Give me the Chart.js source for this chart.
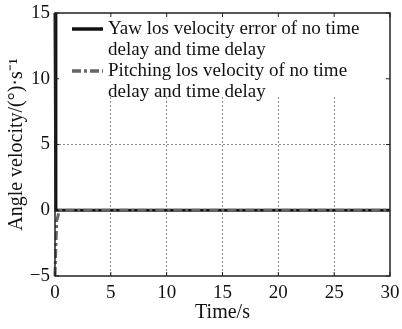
<!DOCTYPE html>
<html>
<head>
<meta charset="utf-8">
<script src="https://cdn.jsdelivr.net/npm/chart.js@4.4.0/dist/chart.umd.min.js"></script>
<style>
  html, body { margin: 0; padding: 0; background: #fff; }
  #wrap { width: 402px; height: 329px; position: relative; }
</style>
</head>
<body>
<div id="wrap"><canvas id="c" width="402" height="329"></canvas></div>
<script>
// --- data ---
const yawTime = [0, 0.08, 30];
const yawValue = [15, 0, 0];
const pitchTime = [0, 0.15, 0.4, 30];
const pitchValue = [-5, -0.8, 0, 0];

const xTicks = [0, 5, 10, 15, 20, 25, 30];
const yTicks = [-5, 0, 5, 10, 15];

const legendLines = [
  ["Yaw los velocity error of no time", "delay and time delay"],
  ["Pitching los velocity of no time", "delay and time delay"]
];

const SERIF = "'Liberation Serif', 'Times New Roman', serif";
const YAW_COLOR = '#111';
const PITCH_COLOR = '#666';
const DASHDOT = [9, 3, 3, 3];

const toPts = (xs, ys) => xs.map((x, i) => ({ x: x, y: ys[i] }));

// white legend box hides the grid, then frame + inward ticks + legend on top
const boxPlugin = {
  id: 'box',
  beforeDatasetsDraw(chart) {
    const ctx = chart.ctx, a = chart.chartArea;
    ctx.save();
    ctx.fillStyle = '#fff';
    ctx.fillRect(a.left + 3, a.top + 1, a.right - a.left - 4, 82);
    ctx.restore();
  },
  afterDraw(chart) {
    const ctx = chart.ctx, a = chart.chartArea;
    const xs = chart.scales.x, ys = chart.scales.y;
    ctx.save();
    ctx.strokeStyle = '#222';
    ctx.lineWidth = 1.5;
    ctx.strokeRect(a.left, a.top, a.right - a.left, a.bottom - a.top);

    // inward ticks
    ctx.lineWidth = 1;
    ctx.beginPath();
    xTicks.forEach(v => {
      const px = xs.getPixelForValue(v);
      ctx.moveTo(px, a.bottom); ctx.lineTo(px, a.bottom - 4);
      ctx.moveTo(px, a.top); ctx.lineTo(px, a.top + 4);
    });
    yTicks.forEach(v => {
      const py = ys.getPixelForValue(v);
      ctx.moveTo(a.left, py); ctx.lineTo(a.left + 4, py);
      ctx.moveTo(a.right, py); ctx.lineTo(a.right - 4, py);
    });
    ctx.stroke();

    // legend
    const x0 = a.left + 17, x1 = a.left + 48, tx = a.left + 53;
    const rows = [a.top + 16, a.top + 58];
    const styles = [
      { color: YAW_COLOR, dash: [] },
      { color: PITCH_COLOR, dash: DASHDOT }
    ];
    ctx.font = '19px ' + SERIF;
    ctx.textBaseline = 'middle';
    ctx.fillStyle = '#111';
    rows.forEach((ry, i) => {
      ctx.strokeStyle = styles[i].color;
      ctx.lineWidth = 3.5;
      ctx.setLineDash(styles[i].dash);
      ctx.beginPath();
      ctx.moveTo(x0, ry); ctx.lineTo(x1, ry);
      ctx.stroke();
      ctx.setLineDash([]);
      ctx.fillText(legendLines[i][0], tx, ry);
      ctx.fillText(legendLines[i][1], tx, ry + 21);
    });
    ctx.restore();
  }
};

const gridColor = c => {
  const v = c.tick && c.tick.value;
  return (c.scale.axis === 'x' ? (v === 0 || v === 30) : (v === -5 || v === 15)) ? 'rgba(0,0,0,0)' : '#8a8a8a';
};

new Chart(document.getElementById('c'), {
  type: 'scatter',
  data: {
    datasets: [
      {
        label: 'Yaw',
        data: toPts(yawTime, yawValue),
        showLine: true,
        borderColor: YAW_COLOR,
        borderWidth: 3,
        pointRadius: 0,
        tension: 0,
        clip: 4,
        order: 1
      },
      {
        label: 'Pitching',
        data: toPts(pitchTime, pitchValue),
        showLine: true,
        borderColor: PITCH_COLOR,
        borderWidth: 3,
        borderDash: DASHDOT,
        pointRadius: 0,
        tension: 0,
        clip: 4,
        order: 0
      }
    ]
  },
  options: {
    responsive: false,
    animation: false,
    devicePixelRatio: 1,
    layout: { padding: { top: 13, right: 12, left: 0, bottom: 0 } },
    plugins: { legend: { display: false }, tooltip: { enabled: false } },
    scales: {
      x: {
        type: 'linear',
        min: 0, max: 30,
        afterFit: s => { s.height = 53; s.paddingLeft = 0; s.paddingRight = 0; },
        afterBuildTicks: s => { s.ticks = xTicks.map(v => ({ value: v })); },
        grid: { color: gridColor, lineWidth: 1, drawTicks: false },
        border: { display: false, dash: [2, 2] },
        ticks: { color: '#111', padding: 6, font: { family: SERIF, size: 19 }, maxRotation: 0 },
        title: {
          display: true, text: 'Time/s', color: '#111',
          font: { family: SERIF, size: 20 }, padding: { top: 0, bottom: 4 }
        }
      },
      y: {
        min: -5, max: 15,
        afterFit: s => { s.width = 55; s.paddingTop = 0; s.paddingBottom = 0; },
        afterBuildTicks: s => { s.ticks = yTicks.map(v => ({ value: v })); },
        grid: { color: gridColor, lineWidth: 1, drawTicks: false },
        border: { display: false, dash: [2, 2] },
        ticks: {
          color: '#111', padding: 5, font: { family: SERIF, size: 19 },
          callback: v => String(v).replace('-', '\u2212')
        },
        title: {
          display: true, text: 'Angle velocity/(\u00b0)\u00b7s\u207b\u00b9', color: '#111',
          font: { family: SERIF, size: 20 }, padding: { top: 5, bottom: 0 }
        }
      }
    }
  },
  plugins: [boxPlugin]
});
</script>
</body>
</html>
